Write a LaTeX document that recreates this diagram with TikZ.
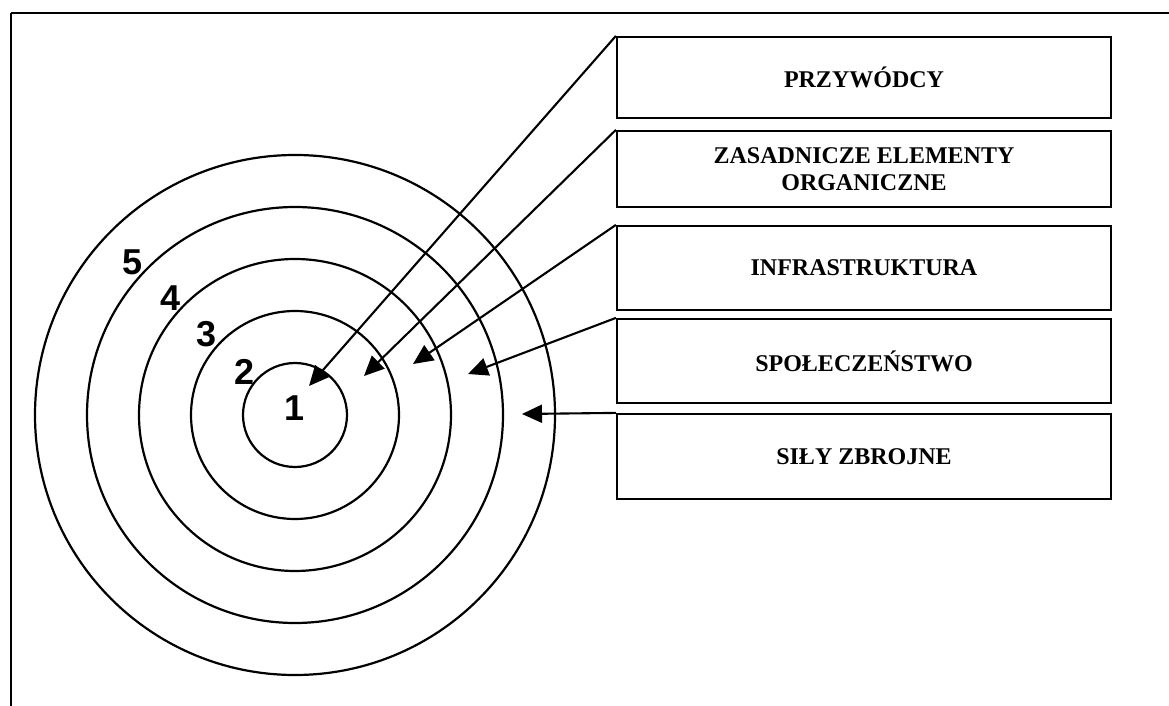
\documentclass[tikz,border=0pt]{standalone}
\usepackage{fontspec}
\setmainfont{Liberation Serif}
\newfontfamily\digitfont{Liberation Sans}
\usetikzlibrary{arrows.meta}
\begin{document}
\begin{tikzpicture}[x=0.5pt,y=-0.5pt,
  ring/.style={draw, line width=1.1pt},
  labelbox/.style={draw, line width=1.1pt, minimum width=247pt, inner sep=0pt, align=center,
     font=\bfseries\fontsize{12}{13.5}\selectfont},
  ringnum/.style={font=\digitfont\bfseries\fontsize{18}{20}\selectfont, inner sep=0pt},
  pointer/.style={draw, line width=1.05pt, -{Triangle[length=10pt,width=9pt]}}]
\useasboundingbox (0,0) rectangle (1169,706);
\draw[line width=1.1pt] (11,13) -- (1180,13) (11,13) -- (11,720);
% rings
\coordinate (c) at (295,415);
\foreach \r in {1,...,5} { \draw[ring] (c) circle[radius=52*\r*0.5pt]; }
\node[ringnum] (n1) at (295,408) {1};
\node[ringnum] (n2) at (245,372) {2};
\node[ringnum] (n3) at (207,334) {3};
\node[ringnum] (n4) at (171,298) {4};
\node[ringnum] (n5) at (133,262) {5};
% boxes
\node[labelbox, minimum height=40.5pt] (b1) at (864,77.5) {PRZYWÓDCY};
\node[labelbox, minimum height=38pt] (b2) at (864,169) {ZASADNICZE ELEMENTY\\ORGANICZNE};
\node[labelbox, minimum height=42pt] (b3) at (864,268) {INFRASTRUKTURA};
\node[labelbox, minimum height=42pt] (b4) at (864,361) {SPOŁECZEŃSTWO};
\node[labelbox, minimum height=42.5pt] (b5) at (864,456.5) {SIŁY ZBROJNE};
% arrow tips
\coordinate (t1) at (309,386);
\coordinate (t2) at (364,376);
\coordinate (t3) at (413,364);
\coordinate (t4) at (468,374);
\coordinate (t5) at (522,414);
\draw[pointer] (b1.north west) -- (t1);
\draw[pointer] (b2.north west) -- (t2);
\draw[pointer] (b3.north west) -- (t3);
\draw[pointer] (b4.north west) -- (t4);
\draw[pointer] (b5.north west) -- (t5);
\end{tikzpicture}
\end{document}
